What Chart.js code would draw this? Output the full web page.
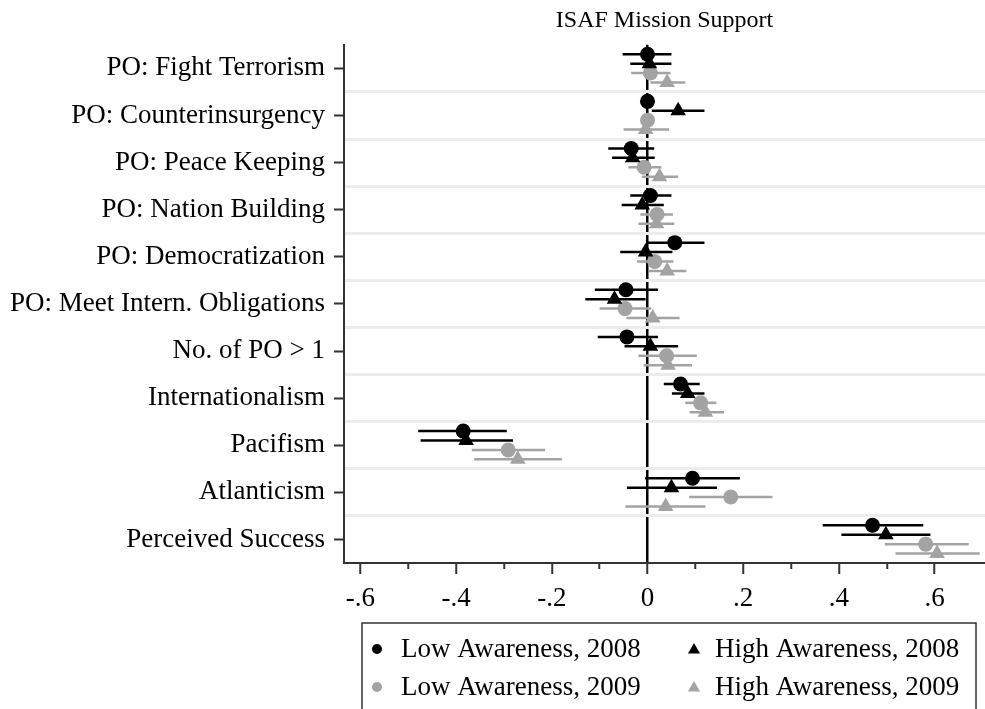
<!DOCTYPE html>
<html>
<head>
<meta charset="utf-8">
<script src="https://cdn.jsdelivr.net/npm/chart.js@4.4.1/dist/chart.umd.min.js"></script>
<style>
  html, body { margin: 0; padding: 0; background: #fff; }
</style>
</head>
<body>
<canvas id="coef-canvas" width="985" height="709"></canvas>
<script>
// ========== Data
let categories = [
    'PO: Fight Terrorism', 'PO: Counterinsurgency', 'PO: Peace Keeping', 'PO: Nation Building',
    'PO: Democratization', 'PO: Meet Intern. Obligations', 'No. of PO > 1', 'Internationalism',
    'Pacifism', 'Atlanticism', 'Perceived Success'
];

let seriesLabels = ['Low Awareness, 2008', 'High Awareness, 2008', 'Low Awareness, 2009', 'High Awareness, 2009'];

// point estimates
let low2008Est  = [0.000, 0.000, -0.034, 0.006, 0.057, -0.045, -0.043, 0.069, -0.385, 0.094, 0.470];
let high2008Est = [0.004, 0.064, -0.031, -0.011, -0.004, -0.069, 0.006, 0.084, -0.379, 0.050, 0.498];
let low2009Est  = [0.006, 0.000, -0.007, 0.020, 0.015, -0.047, 0.040, 0.111, -0.291, 0.174, 0.581];
let high2009Est = [0.041, -0.004, 0.025, 0.019, 0.041, 0.011, 0.043, 0.121, -0.271, 0.038, 0.605];

// confidence intervals (lower / upper)
let low2008Lo  = [-0.052, -0.004, -0.082, -0.036, -0.003, -0.110, -0.104, 0.034, -0.479, -0.005, 0.366];
let low2008Hi  = [0.050, 0.004, 0.014, 0.050, 0.119, 0.022, 0.022, 0.109, -0.294, 0.193, 0.576];
let high2008Lo = [-0.036, 0.009, -0.074, -0.054, -0.057, -0.130, -0.048, 0.051, -0.474, -0.043, 0.405];
let high2008Hi = [0.050, 0.119, 0.015, 0.034, 0.052, -0.004, 0.064, 0.119, -0.281, 0.145, 0.591];
let low2009Lo  = [-0.034, -0.004, -0.040, -0.015, -0.022, -0.100, -0.019, 0.079, -0.367, 0.087, 0.496];
let low2009Hi  = [0.048, 0.004, 0.029, 0.053, 0.054, 0.008, 0.103, 0.144, -0.214, 0.261, 0.671];
let high2009Lo = [0.006, -0.050, -0.012, -0.019, 0.003, -0.044, -0.008, 0.088, -0.362, -0.046, 0.518];
let high2009Hi = [0.079, 0.045, 0.064, 0.056, 0.081, 0.067, 0.093, 0.160, -0.179, 0.121, 0.694];

// x axis ticks
let xTicks = [-0.6, -0.5, -0.4, -0.3, -0.2, -0.1, 0, 0.1, 0.2, 0.3, 0.4, 0.5, 0.6];
let xTickLabels = ['-.6', '', '-.4', '', '-.2', '', '0', '', '.2', '', '.4', '', '.6'];

// ========== Styles
let blackColor = '#000000';
let grayColor = '#a3a3a3';
let axisColor = '#333333';
let fontFamily = '"Liberation Serif", "DejaVu Serif", serif';

// vertical offset of each series inside its category row
let rowOffsets = [-0.3, -0.1, 0.1, 0.3];

function makePoints(est, lo, hi, k) {
    return est.map((v, i) => ({ x: v, y: i + rowOffsets[k], lo: lo[i], hi: hi[i] }));
}

let coefData = {
    datasets: [{
        label: seriesLabels[0],
        data: makePoints(low2008Est, low2008Lo, low2008Hi, 0),
        pointStyle: 'circle', pointRadius: 7.5,
        backgroundColor: blackColor, borderColor: blackColor
    }, {
        label: seriesLabels[1],
        data: makePoints(high2008Est, high2008Lo, high2008Hi, 1),
        pointStyle: 'triangle', pointRadius: 9,
        backgroundColor: blackColor, borderColor: blackColor
    }, {
        label: seriesLabels[2],
        data: makePoints(low2009Est, low2009Lo, low2009Hi, 2),
        pointStyle: 'circle', pointRadius: 7.5,
        backgroundColor: grayColor, borderColor: grayColor
    }, {
        label: seriesLabels[3],
        data: makePoints(high2009Est, high2009Lo, high2009Hi, 3),
        pointStyle: 'triangle', pointRadius: 9,
        backgroundColor: grayColor, borderColor: grayColor
    }]
};

// ========== Plugins
// horizontal confidence interval lines, drawn under the markers
let errorBars = {
    id: 'errorBars',
    beforeDatasetsDraw(chart) {
        let ctx = chart.ctx, xs = chart.scales.x, ys = chart.scales.y;
        ctx.save();
        chart.data.datasets.forEach(ds => {
            ctx.strokeStyle = ds.borderColor;
            ctx.lineWidth = 2.5;
            ds.data.forEach(p => {
                let y = ys.getPixelForValue(p.y);
                ctx.beginPath();
                ctx.moveTo(xs.getPixelForValue(p.lo), y);
                ctx.lineTo(xs.getPixelForValue(p.hi), y);
                ctx.stroke();
            });
        });
        ctx.restore();
    }
};

// boxed 2x2 legend below the x axis
let boxLegend = {
    id: 'boxLegend',
    afterDraw(chart) {
        let ctx = chart.ctx;
        ctx.save();
        ctx.strokeStyle = axisColor;
        ctx.lineWidth = 1.5;
        ctx.strokeRect(362, 623, 614, 100);
        ctx.font = '27px ' + fontFamily;
        ctx.textBaseline = 'middle';
        chart.data.datasets.forEach((ds, i) => {
            let col = i % 2, row = Math.floor(i / 2);
            let mx = col ? 694 : 377, tx = col ? 715 : 401;
            let y = row ? 687 : 649;
            ctx.fillStyle = ds.backgroundColor;
            Chart.helpers.drawPoint(ctx, {
                pointStyle: ds.pointStyle,
                radius: ds.pointStyle === 'circle' ? 5 : 7,
                rotation: 0, borderWidth: 0
            }, mx, y + (ds.pointStyle === 'circle' ? 0 : 1));
            ctx.fillStyle = '#000';
            ctx.fillText(ds.label, tx, y + 1);
        });
        ctx.restore();
    }
};

// ========== Chart
var coefCanvas = document.getElementById('coef-canvas');
var coefChart = new Chart(coefCanvas, {
    type: 'scatter',
    data: coefData,
    plugins: [errorBars, boxLegend],
    options: {
        responsive: false,
        animation: false,
        events: [],
        layout: { autoPadding: false, padding: { left: 0, right: 0, top: 0, bottom: 96 } },
        elements: { point: { borderWidth: 0, hoverRadius: 0 } },
        plugins: {
            legend: { display: false },
            tooltip: { enabled: false },
            title: {
                display: true,
                text: 'ISAF Mission Support',
                fullSize: false,
                color: '#000',
                font: { family: fontFamily, size: 24, weight: 'normal' },
                padding: { top: 6, bottom: 10 }
            }
        },
        scales: {
            x: {
                type: 'linear',
                min: -0.634,
                max: 0.705,
                afterBuildTicks: s => { s.ticks = xTicks.map(v => ({ value: v })); },
                afterFit: s => { s.height = 50; },
                border: { display: true, color: axisColor, width: 2 },
                grid: {
                    color: c => (c.tick && c.tick.value === 0) ? '#000' : 'rgba(0,0,0,0)',
                    lineWidth: 2.5,
                    tickLength: 11,
                    tickColor: axisColor,
                    tickWidth: 2,
                    tickBorderDash: c => (c.tick && xTickLabels[c.index] === '') ? [5, 30] : []
                },
                ticks: {
                    autoSkip: false,
                    maxRotation: 0,
                    padding: 9,
                    color: '#000',
                    font: { family: fontFamily, size: 27 },
                    callback: (v, i) => xTickLabels[i]
                }
            },
            y: {
                type: 'linear',
                min: -0.5,
                max: 10.5,
                reverse: true,
                afterBuildTicks: s => { s.ticks = categories.map((c, i) => ({ value: i })); },
                afterFit: s => { s.width = 344; },
                border: { display: true, color: axisColor, width: 2 },
                grid: { drawOnChartArea: false, tickLength: 10, tickColor: axisColor, tickWidth: 2 },
                ticks: {
                    autoSkip: false,
                    padding: 9,
                    color: '#000',
                    font: { family: fontFamily, size: 27 },
                    callback: v => categories[Math.round(v)]
                }
            },
            // light bands between the category rows
            yBand: {
                type: 'linear',
                position: 'right',
                min: -0.5,
                max: 10.5,
                reverse: true,
                afterBuildTicks: s => { s.ticks = categories.slice(1).map((c, i) => ({ value: i + 0.5 })); },
                afterFit: s => { s.width = 0; },
                border: { display: false },
                grid: { color: '#ececec', lineWidth: 3, drawTicks: false },
                ticks: { display: false }
            }
        }
    }
});
</script>
</body>
</html>
